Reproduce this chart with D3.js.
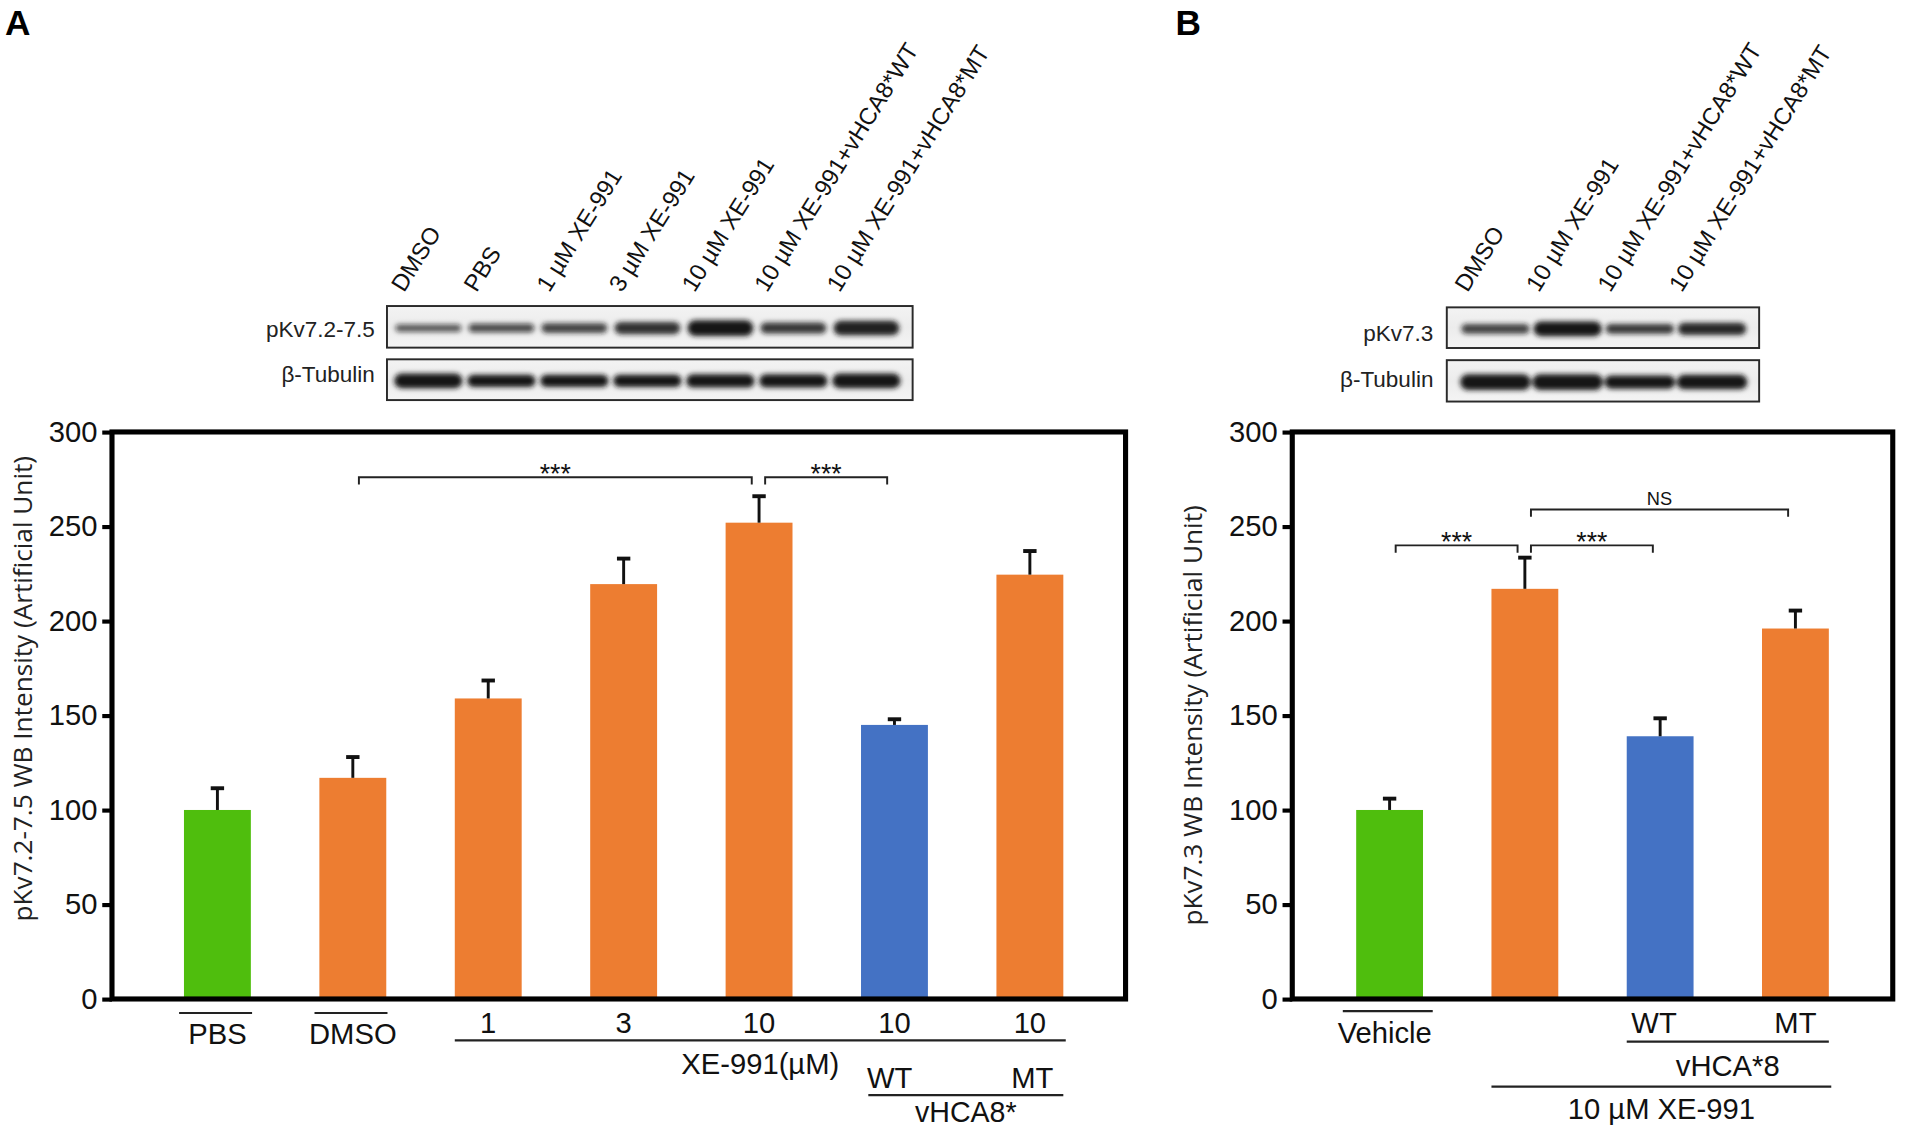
<!DOCTYPE html>
<html><head><meta charset="utf-8">
<script src="https://cdn.jsdelivr.net/npm/d3@7"></script>
<style>body{margin:0;background:#fff}svg{display:block}</style>
</head><body>
<svg id="fig" width="1908" height="1131" viewBox="0 0 1568 929.5"></svg>
<script>
// ---------------- DATA ----------------
const yTicks = [0, 50, 100, 150, 200, 250, 300];

// Panel A
const catsA = ["PBS", "DMSO", "XE 1", "XE 3", "XE 10", "XE 10 + WT", "XE 10 + MT"];
const valuesA = [100, 117, 159, 219.5, 252, 145, 224.5];
const errorsA = [11.5, 11, 9.5, 13.5, 14, 3, 12.5];
const groupsA = ["green", "orange", "orange", "orange", "orange", "blue", "orange"];
const tickLabelsA = ["PBS", "DMSO", "1", "3", "10", "10", "10"];
const bracketsA = [
  { from: 1, to: 4, level: 276, label: "***" },
  { from: 4, to: 5, level: 276, label: "***" }
];
const laneLabelsA = ["DMSO", "PBS", "1 µM XE-991", "3 µM XE-991", "10 µM XE-991",
  "10 µM XE-991+vHCA8*WT", "10 µM XE-991+vHCA8*MT"];
const bandA_pkv = [6, 7, 8, 10, 13, 9, 12];
const bandA_pkvDark = [0.7, 0.75, 0.8, 0.88, 1, 0.85, 0.95];
const bandA_tub = [12, 10, 10, 10, 11, 11, 12];

// Panel B
const catsB = ["Vehicle", "XE 10", "XE 10 + WT", "XE 10 + MT"];
const valuesB = [100, 217, 139, 196];
const errorsB = [6, 16.5, 9.5, 9.5];
const groupsB = ["green", "orange", "blue", "orange"];
const bracketsB = [
  { from: 0, to: 1, level: 240, label: "***" },
  { from: 1, to: 2, level: 240, label: "***" },
  { from: 1, to: 3, level: 259, label: "NS" }
];
const laneLabelsB = ["DMSO", "10 µM XE-991", "10 µM XE-991+vHCA8*WT", "10 µM XE-991+vHCA8*MT"];
const bandB_pkv = [8, 12, 8, 10];
const bandB_pkvDark = [0.8, 1, 0.85, 0.92];
const bandB_tub = [13, 13, 11, 12];

// ---------------- STYLE ----------------
const palette = { green: "#4FBE0D", orange: "#ED7D31", blue: "#4472C4" };
const FONT = "'Liberation Sans', Arial, sans-serif";
const TITLEFONT = "'Open Sans', 'Liberation Sans', sans-serif";

const svg = d3.select("#fig");
const defs = svg.append("defs");
defs.append("filter").attr("id", "blur")
  .attr("x", "-30%").attr("y", "-150%").attr("width", "160%").attr("height", "400%")
  .append("feGaussianBlur").attr("stdDeviation", 2.2);
const bg = defs.append("linearGradient").attr("id", "blotbg").attr("x1", 0).attr("x2", 0).attr("y1", 0).attr("y2", 1);
bg.append("stop").attr("offset", "0%").attr("stop-color", "#f3f3f3");
bg.append("stop").attr("offset", "50%").attr("stop-color", "#ececec");
bg.append("stop").attr("offset", "100%").attr("stop-color", "#f4f4f4");

// ---------------- PANEL FUNCTION ----------------
function drawPanel(cfg) {
  const g = svg.append("g");
  const y = d3.scaleLinear().domain([0, 300]).range([cfg.bottom, cfg.top]);
  const x = d3.scaleBand().domain(cfg.cats).range(cfg.xRange).padding(0);
  const bw = x.bandwidth() * 0.494;
  const cx = d => x(d) + x.bandwidth() / 2;

  g.selectAll("rect.bar").data(cfg.cats).join("rect")
    .attr("class", "bar")
    .attr("x", d => cx(d) - bw / 2)
    .attr("width", bw)
    .attr("y", (d, i) => y(cfg.values[i]))
    .attr("height", (d, i) => y(0) - y(cfg.values[i]))
    .attr("fill", (d, i) => palette[cfg.groups[i]]);

  const eb = g.selectAll("g.err").data(cfg.cats).join("g").attr("class", "err");
  eb.append("line")
    .attr("x1", d => cx(d)).attr("x2", d => cx(d))
    .attr("y1", (d, i) => y(cfg.values[i])).attr("y2", (d, i) => y(cfg.values[i] + cfg.errors[i]))
    .attr("stroke", "#111").attr("stroke-width", 2.4);
  eb.append("line")
    .attr("x1", d => cx(d) - 5.5).attr("x2", d => cx(d) + 5.5)
    .attr("y1", (d, i) => y(cfg.values[i] + cfg.errors[i])).attr("y2", (d, i) => y(cfg.values[i] + cfg.errors[i]))
    .attr("stroke", "#111").attr("stroke-width", 3.2);

  g.append("rect")
    .attr("x", cfg.xAxis).attr("y", y(300))
    .attr("width", cfg.right - cfg.xAxis).attr("height", y(0) - y(300))
    .attr("fill", "none").attr("stroke", "#000").attr("stroke-width", 4.2);

  const ax = g.append("g").attr("transform", `translate(${cfg.xAxis},0)`)
    .call(d3.axisLeft(y).tickValues(yTicks).tickSize(8).tickPadding(4).tickSizeOuter(0));
  ax.select(".domain").remove();
  ax.selectAll(".tick line").attr("stroke", "#000").attr("stroke-width", 3.4);
  ax.selectAll(".tick text").attr("fill", "#111").style("font-family", FONT).style("font-size", "24px");

  g.append("text")
    .attr("transform", `translate(${cfg.titleX},${cfg.titleY}) rotate(-90)`)
    .attr("text-anchor", "middle")
    .style("font-family", TITLEFONT).style("font-size", cfg.titleSize + "px").attr("fill", "#222")
    .text(cfg.title);

  cfg.brackets.forEach(b => {
    const xa = cx(cfg.cats[b.from]) + 5, xb = cx(cfg.cats[b.to]) - 6, yy = y(b.level);
    g.append("path")
      .attr("d", `M${xa},${yy + 6}V${yy}H${xb}V${yy + 6}`)
      .attr("fill", "none").attr("stroke", "#222").attr("stroke-width", 1.6);
    const isNS = b.label === "NS";
    g.append("text")
      .attr("x", (xa + xb) / 2).attr("y", isNS ? yy - 4 : yy + 5)
      .attr("text-anchor", "middle")
      .style("font-family", FONT).style("font-size", isNS ? "15px" : "22px").attr("fill", "#111")
      .text(b.label);
  });

  return { x, y, cx, bw };
}

function label(xp, yp, txt, opts = {}) {
  return svg.append("text").attr("x", xp).attr("y", yp)
    .attr("text-anchor", opts.anchor || "middle")
    .style("font-family", opts.font || FONT)
    .style("font-size", (opts.size || 24) + "px")
    .style("font-weight", opts.weight || "normal")
    .attr("fill", opts.fill || "#111")
    .text(txt);
}
function hline(x1, x2, yy, w = 1.8) {
  svg.append("line").attr("x1", x1).attr("x2", x2).attr("y1", yy).attr("y2", yy)
    .attr("stroke", "#222").attr("stroke-width", w);
}

function drawBlot(box, lanes, laneRange, thick, dark, bandW, name, nameX, nameY) {
  const lx = d3.scalePoint().domain(lanes).range(laneRange);
  svg.append("rect").attr("x", box[0]).attr("y", box[1]).attr("width", box[2] - box[0]).attr("height", box[3] - box[1])
    .attr("fill", "url(#blotbg)").attr("stroke", "#2a2a2a").attr("stroke-width", 1.6);
  const cy = (box[1] + box[3]) / 2;
  const gb = svg.append("g").attr("filter", "url(#blur)");
  lanes.forEach((l, i) => {
    gb.append("rect")
      .attr("x", lx(l) - bandW / 2).attr("width", bandW)
      .attr("y", cy - thick[i] / 2 + 1).attr("height", thick[i])
      .attr("rx", thick[i] / 2)
      .attr("fill", "#151515").attr("opacity", dark ? dark[i] : 1);
  });
  label(nameX, nameY, name, { anchor: "end", size: 18.5, fill: "#222" });
}

// ---------------- PANEL A ----------------
const A = drawPanel({
  cats: catsA, values: valuesA, errors: errorsA, groups: groupsA, brackets: bracketsA,
  xRange: [123, 902], xAxis: 92, right: 925, top: 355, bottom: 821,
  title: "pKv7.2-7.5 WB Intensity (Artificial Unit)", titleX: 26, titleY: 566, titleSize: 21.5
});
label(4, 29, "A", { anchor: "start", size: 29, weight: "bold", fill: "#000" });

catsA.forEach((c, i) => {
  const isWord = i < 2;
  label(A.cx(c), isWord ? 858 : 849, tickLabelsA[i]);
  if (isWord) hline(A.cx(c) - A.bw / 2 - 4, A.cx(c) + A.bw / 2 + 1, 832.5);
});
{
  const l = A.cx(catsA[2]) - A.bw / 2, r = A.cx(catsA[6]) + A.bw / 2 + 2;
  hline(l, r, 855);
  label((l + r) / 2, 883, "XE-991(µM)");
  label(A.cx(catsA[5]) - 4, 894, "WT");
  label(A.cx(catsA[6]) + 2, 894, "MT");
  const l2 = A.cx(catsA[5]) - A.bw / 2 + 6, r2 = A.cx(catsA[6]) + A.bw / 2;
  hline(l2, r2, 900);
  label((l2 + r2) / 2, 922, "vHCA8*", { size: 23.5 });
}

drawBlot([318, 251.5, 750, 285.7], laneLabelsA, [352, 712], bandA_pkv, bandA_pkvDark, 54, "pKv7.2-7.5", 308, 277);
drawBlot([318, 295.3, 750, 328.8], laneLabelsA, [352, 712], bandA_tub, null, 56, "β-Tubulin", 308, 314);
{
  const lp = d3.scalePoint().domain(laneLabelsA).range([332, 690]);
  laneLabelsA.forEach(t => {
    svg.append("text")
      .attr("transform", `translate(${lp(t)},241) rotate(-58)`)
      .style("font-family", FONT).style("font-size", "19.5px").attr("fill", "#111")
      .text(t);
  });
}

// ---------------- PANEL B ----------------
const B = drawPanel({
  cats: catsB, values: valuesB, errors: errorsB, groups: groupsB, brackets: bracketsB,
  xRange: [1086.4, 1531.1], xAxis: 1062, right: 1555.5, top: 355, bottom: 821,
  title: "pKv7.3 WB Intensity (Artificial Unit)", titleX: 988, titleY: 588, titleSize: 21.5
});
label(966, 29, "B", { anchor: "start", size: 29, weight: "bold", fill: "#000" });

{
  const c0 = B.cx(catsB[0]);
  hline(c0 - B.bw / 2 - 11, c0 + B.bw / 2 + 8, 831);
  label(c0 - 4, 857, "Vehicle");
  label(B.cx(catsB[2]) - 5, 849, "WT");
  label(B.cx(catsB[3]), 849, "MT");
  const l = B.cx(catsB[2]) - B.bw / 2, r = B.cx(catsB[3]) + B.bw / 2;
  hline(l, r, 856);
  label((l + r) / 2, 884, "vHCA*8");
  const l2 = B.cx(catsB[1]) - B.bw / 2, r2 = B.cx(catsB[3]) + B.bw / 2 + 2;
  hline(l2, r2, 893);
  label((l2 + r2) / 2, 920, "10 µM XE-991");
}

drawBlot([1189, 252.6, 1445.7, 286], laneLabelsB, [1229, 1407], bandB_pkv, bandB_pkvDark, 56, "pKv7.3", 1178, 280);
drawBlot([1189, 296, 1445.7, 330], laneLabelsB, [1229, 1407], bandB_tub, null, 58, "β-Tubulin", 1178, 318);
{
  const lp = d3.scalePoint().domain(laneLabelsB).range([1206, 1382]);
  laneLabelsB.forEach(t => {
    svg.append("text")
      .attr("transform", `translate(${lp(t)},241) rotate(-58)`)
      .style("font-family", FONT).style("font-size", "19.5px").attr("fill", "#111")
      .text(t);
  });
}
</script>
</body></html>
